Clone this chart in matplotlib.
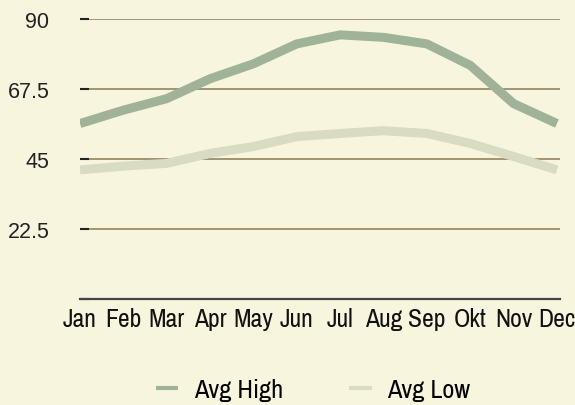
import matplotlib
matplotlib.use("Agg")
import matplotlib.pyplot as plt

# Dados
meses = ['Jan', 'Feb', 'Mar', 'Apr', 'May', 'Jun', 'Jul', 'Aug', 'Sep', 'Okt', 'Nov', 'Dec']
avg_high = [56.4, 60.7, 64.4, 70.8, 75.6, 82.0, 84.9, 84.1, 82.0, 75.1, 62.8, 56.4]
avg_low = [41.5, 42.7, 43.6, 46.8, 49.0, 52.2, 53.2, 54.1, 53.2, 50.0, 45.8, 41.5]
y_ticks = [0, 22.5, 45, 67.5, 90]
y_labels = ['', '22.5', '45', '67.5', '90']

fundo = '#f8f5de'
cor_high = '#a0b398'
cor_low = '#d9dbc3'
fonte_meses = ['Archivo Narrow', 'DejaVu Sans']

fig = plt.figure(figsize=(5.75, 4.06), dpi=100, facecolor=fundo)
ax = fig.add_axes([80/575, 1 - 300/406, 480/575, 280/406], facecolor=fundo)

x = list(range(len(meses)))
ax.plot(x, avg_high, color=cor_high, lw=6.5, solid_capstyle='butt', zorder=3, label='Avg High')
ax.plot(x, avg_low, color=cor_low, lw=6.5, solid_capstyle='butt', zorder=3, label='Avg Low')

ax.set_xlim(0, 11.07)
ax.set_ylim(0, 90)
ax.set_yticks(y_ticks)
ax.set_yticklabels(y_labels, fontsize=15.5, color='#222222', family='Liberation Sans')
ax.set_xticks(x)
ax.set_xticklabels(meses, fontsize=18.5, color='#111111', family=fonte_meses)

ax.yaxis.grid(True, color='#8a7a55', lw=1.1, zorder=1)
ax.set_axisbelow(True)
ax.tick_params(axis='y', direction='in', length=6.5, width=1.5, color='#222222', pad=22)
ax.tick_params(axis='x', length=0, pad=6)

for lado in ['top', 'right', 'left']:
    ax.spines[lado].set_visible(False)
ax.spines['bottom'].set_color('#444444')
ax.spines['bottom'].set_linewidth(1.6)

fig.legend(loc='center', bbox_to_anchor=(313/575, 1 - 391/406), ncol=2, frameon=False,
           handlelength=0.85, handletextpad=0.6, columnspacing=2.5,
           prop={'family': fonte_meses, 'size': 19})
leg = fig.legends[0]
for linha in leg.get_lines():
    linha.set_linewidth(3)

fig.savefig('out.png', dpi=100, facecolor=fundo)
